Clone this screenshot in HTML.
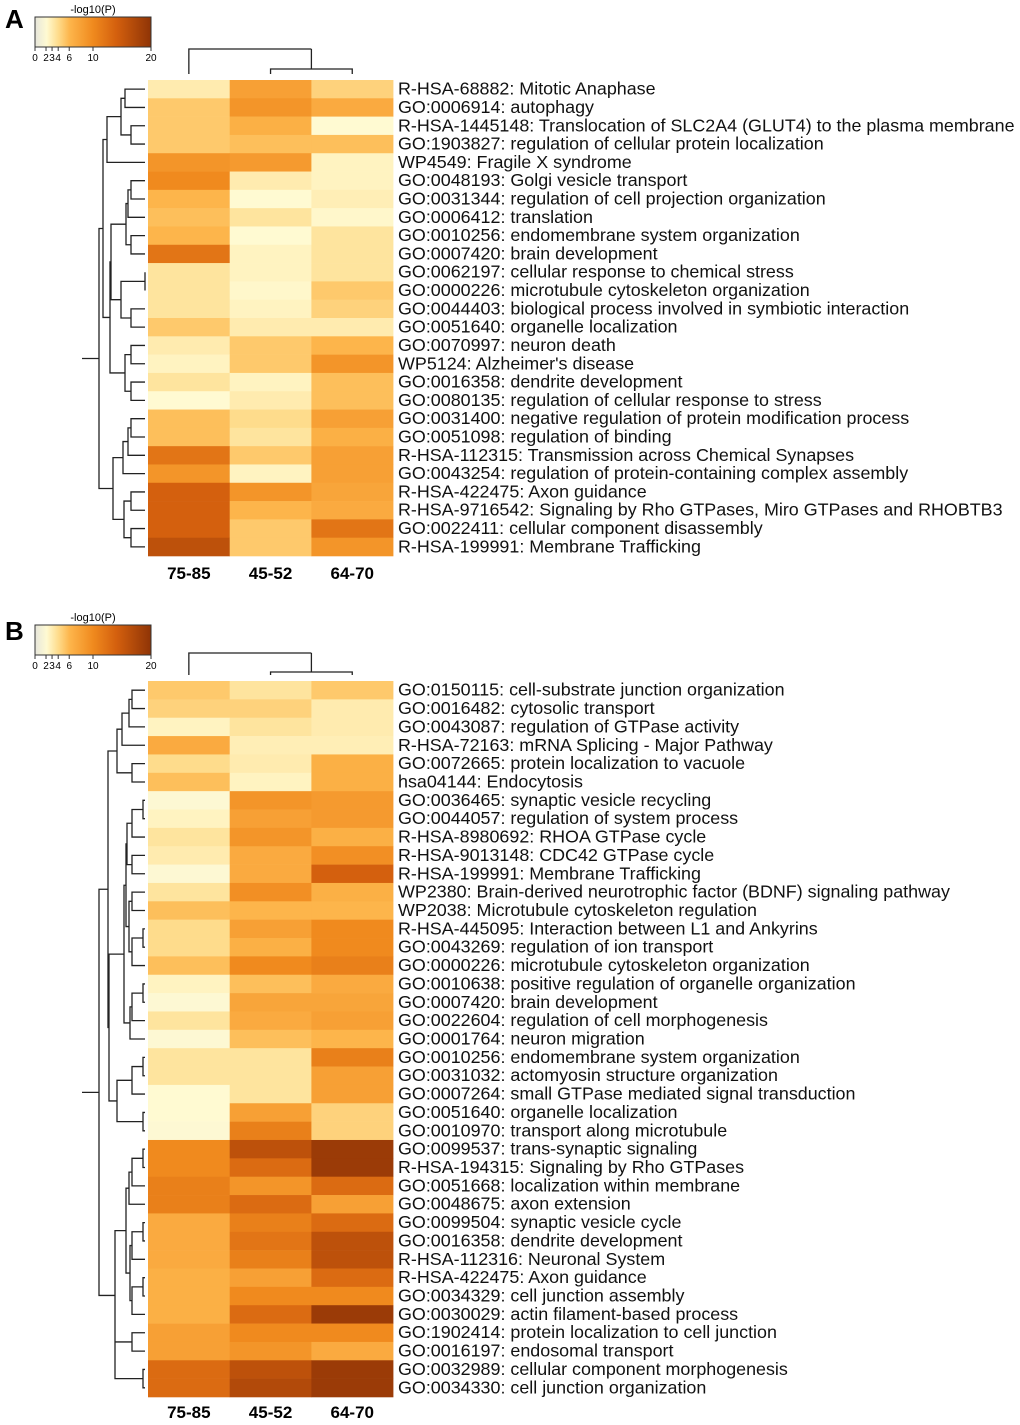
<!DOCTYPE html>
<html><head><meta charset="utf-8">
<style>
html,body{margin:0;padding:0;background:#fff;}
svg{display:block;font-family:"Liberation Sans",sans-serif;}
</style></head>
<body>
<svg id="fig" width="1020" height="1425" viewBox="0 0 1020 1425">
<defs>
<linearGradient id="cmap" x1="0" x2="1" y1="0" y2="0">
<stop offset="0" stop-color="#e6e6dc"/>
<stop offset="0.1" stop-color="#fffad2"/>
<stop offset="0.2" stop-color="#fedc8c"/>
<stop offset="0.3" stop-color="#fdb54b"/>
<stop offset="0.5" stop-color="#f08a1e"/>
<stop offset="0.7" stop-color="#d4600e"/>
<stop offset="1" stop-color="#8f3406"/>
</linearGradient>
</defs>
</svg>
<script>
const NS="http://www.w3.org/2000/svg";
const svg=document.getElementById('fig');
const columns=["75-85","45-52","64-70"];
const labelsA=["R-HSA-68882: Mitotic Anaphase","GO:0006914: autophagy","R-HSA-1445148: Translocation of SLC2A4 (GLUT4) to the plasma membrane","GO:1903827: regulation of cellular protein localization","WP4549: Fragile X syndrome","GO:0048193: Golgi vesicle transport","GO:0031344: regulation of cell projection organization","GO:0006412: translation","GO:0010256: endomembrane system organization","GO:0007420: brain development","GO:0062197: cellular response to chemical stress","GO:0000226: microtubule cytoskeleton organization","GO:0044403: biological process involved in symbiotic interaction","GO:0051640: organelle localization","GO:0070997: neuron death","WP5124: Alzheimer's disease","GO:0016358: dendrite development","GO:0080135: regulation of cellular response to stress","GO:0031400: negative regulation of protein modification process","GO:0051098: regulation of binding","R-HSA-112315: Transmission across Chemical Synapses","GO:0043254: regulation of protein-containing complex assembly","R-HSA-422475: Axon guidance","R-HSA-9716542: Signaling by Rho GTPases, Miro GTPases and RHOBTB3","GO:0022411: cellular component disassembly","R-HSA-199991: Membrane Trafficking"];
const valuesA=[[3,8,4.5],[5,9,7],[5,6.5,2],[5,5.5,5.5],[9,8.5,2.5],[10,3,2.5],[6,2,2.8],[5.5,3.5,2.2],[6,2,3.5],[12,2.5,3.5],[3.5,2.5,3.5],[3.5,2.2,5],[3.5,2.5,4.5],[5,3,3],[3,5,6],[2.5,5,9],[3.5,2.5,5.5],[2,3,5.5],[5.5,4,8],[5.5,3.5,6.5],[12,5,8],[9,2.5,8],[14,9,7.5],[14,6,7],[14,5,12],[16,5,9]];
const labelsB=["GO:0150115: cell-substrate junction organization","GO:0016482: cytosolic transport","GO:0043087: regulation of GTPase activity","R-HSA-72163: mRNA Splicing - Major Pathway","GO:0072665: protein localization to vacuole","hsa04144: Endocytosis","GO:0036465: synaptic vesicle recycling","GO:0044057: regulation of system process","R-HSA-8980692: RHOA GTPase cycle","R-HSA-9013148: CDC42 GTPase cycle","R-HSA-199991: Membrane Trafficking","WP2380: Brain-derived neurotrophic factor (BDNF) signaling pathway","WP2038: Microtubule cytoskeleton regulation","R-HSA-445095: Interaction between L1 and Ankyrins","GO:0043269: regulation of ion transport","GO:0000226: microtubule cytoskeleton organization","GO:0010638: positive regulation of organelle organization","GO:0007420: brain development","GO:0022604: regulation of cell morphogenesis","GO:0001764: neuron migration","GO:0010256: endomembrane system organization","GO:0031032: actomyosin structure organization","GO:0007264: small GTPase mediated signal transduction","GO:0051640: organelle localization","GO:0010970: transport along microtubule","GO:0099537: trans-synaptic signaling","R-HSA-194315: Signaling by Rho GTPases","GO:0051668: localization within membrane","GO:0048675: axon extension","GO:0099504: synaptic vesicle cycle","GO:0016358: dendrite development","R-HSA-112316: Neuronal System","R-HSA-422475: Axon guidance","GO:0034329: cell junction assembly","GO:0030029: actin filament-based process","GO:1902414: protein localization to cell junction","GO:0016197: endosomal transport","GO:0032989: cellular component morphogenesis","GO:0034330: cell junction organization"];
const valuesB=[[5,3.5,5],[4.5,4.5,3],[2.5,3.5,3],[7,2.8,2.8],[4,3,6.5],[5.5,2.5,6.5],[1.8,9,8.5],[2.5,8,8.5],[3.5,9,6.5],[3,7,9.5],[1.8,7,14],[3.5,9.5,6.5],[5.5,6,6],[4,8,10],[4,6.5,10],[5.5,10,11],[2.5,5.5,7],[1.8,7.5,7.5],[3.5,7,8],[1.8,5.5,6],[3.5,3.5,11],[3.5,3.5,8],[2,3.5,8],[2,8,4.5],[1.8,11,4.5],[10,16,19],[10,13,19],[11,9,13],[11,13,8],[7,11,13],[7,12,16],[7,11,16],[6.5,8,13],[6.5,10,10],[6.5,13,19],[8,10,10],[8,9,7],[13,16,19],[13,17,19]];
const tickVals=[0,2,3,4,6,10,20];
const tickPos={0:0,2:0.095,3:0.147,4:0.2,6:0.295,10:0.5,20:1};
const stops=[[0,[230,230,220]],[2,[255,250,210]],[4,[254,220,140]],[6,[253,181,75]],[10,[240,138,30]],[14,[212,96,14]],[20,[143,52,6]]];
function color(v){
  v=Math.max(0,Math.min(20,v));
  for(let i=0;i<stops.length-1;i++){const a=stops[i],b=stops[i+1];
    if(v<=b[0]){const t=(v-a[0])/(b[0]-a[0]);const c=a[1].map((x,k)=>Math.round(x+(b[1][k]-x)*t));return `rgb(${c[0]},${c[1]},${c[2]})`;}}
  return 'rgb(143,52,6)';
}
function el(tag,attrs,parent){const e=document.createElementNS(NS,tag);for(const k in attrs)e.setAttribute(k,attrs[k]);(parent||svg).appendChild(e);return e;}
const treeA=[[[[[0,1,125],[2,3,131],121],4,107],[[[[[5,6,131],7,128],[8,9,131],126],[[10,11,145],[12,13,131],121],111],[[14,15,131],[16,17,131],125],110],103],[[[[18,19,131],20,128],21,123],[[22,23,131],[24,25,131],124],113],99];
const treeB=[[[[[[0,1,132],2,129],3,122],[4,5,132],117],[[[[[[6,7,143],8,132],[9,10,132],127],[[11,12,132],[[13,14,143],15,132],129],126],[[[16,17,143],18,132],19,130],124],[[[20,21,143],22,132],[23,24,143],117],109],108],[[[[[25,26,143],27,132],28,129],[[[29,30,143],31,132],[[32,33,143],34,132],130],126],[[35,36,132],[37,38,143],115],115],99];
function drawPanel(P){
  const g=el('g',{});
  
  
  const t=el('text',{x:5,y:P.letterY,'font-size':26,'font-weight':'bold'},g);t.textContent=P.letter;
  
  const lg=el('g',{},g);
  const lt=el('text',{x:93,y:P.legY-4,'font-size':11,'text-anchor':'middle'},lg);lt.textContent='-log10(P)';
  el('rect',{x:35,y:P.legY,width:116,height:30,fill:'url(#cmap)',stroke:'#333','stroke-width':1},lg);
  tickVals.forEach(v=>{const x=35+tickPos[v]*116;
    el('line',{x1:x,x2:x,y1:P.legY+30,y2:P.legY+34,stroke:'#333'},lg);
    const tt=el('text',{x:x,y:P.legY+44,'font-size':10,'text-anchor':'middle'},lg);tt.textContent=v;});
  const x0=148,cw=81.7,n=P.labels.length,rh=(P.bottom-P.top)/n;
  const hm=el('g',{},g);
  P.values.forEach((row,i)=>{row.forEach((v,j)=>{
    const r=el('rect',{x:x0+j*cw,y:P.top+i*rh,width:cw+0.3,height:rh+0.3,fill:color(v)},hm);
    });
    const tx=el('text',{x:398,y:P.top+i*rh+rh/2+5.5,'font-size':17.9,fill:'#111'},g);tx.textContent=P.labels[i];
    });
  columns.forEach((c,j)=>{const ct=el('text',{x:x0+j*cw+cw/2,y:P.colY,'font-size':17,'font-weight':'bold','text-anchor':'middle'},g);ct.textContent=c;
    });
  const cx=[x0+cw/2,x0+1.5*cw,x0+2.5*cw];const pm=(cx[1]+cx[2])/2;
  const cd=el('path',{d:`M${cx[1]},${P.top-6}V${P.cd2}H${cx[2]}V${P.top-6}M${pm},${P.cd2}V${P.cd1}M${cx[0]},${P.top-6}V${P.cd1}H${pm}`,fill:'none',stroke:'#222','stroke-width':1.3},g);
  
  let d='';
  function walk(node){ if(typeof node==='number') return {y:P.top+node*rh+rh/2,x:145};
    const a=walk(node[0]),b=walk(node[1]),x=node[2];
    d+=`M${a.x},${a.y}H${x}V${b.y}H${b.x}`; return {y:(a.y+b.y)/2,x:x};}
  const root=walk(P.tree);d+=`M${root.x},${root.y}H${root.x-17}`;
  const rd=el('path',{d:d,fill:'none',stroke:'#222','stroke-width':1.3},g);
  
}
drawPanel({name:'panel-a',letter:'A',letterY:28,legY:17,labels:labelsA,values:valuesA,top:80,bottom:556,colY:579,cd1:49,cd2:69,tree:treeA});
drawPanel({name:'panel-b',letter:'B',letterY:640,legY:625,labels:labelsB,values:valuesB,top:681,bottom:1397,colY:1418,cd1:653,cd2:672,tree:treeB});
</script>
</body></html>
